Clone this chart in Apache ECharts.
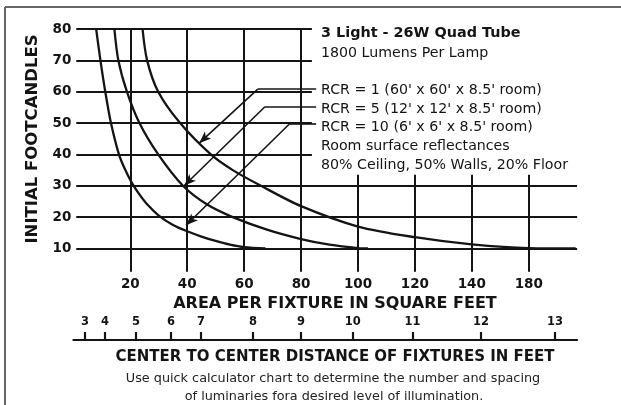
<!DOCTYPE html>
<html>
<head>
<meta charset="utf-8">
<script src="https://cdn.jsdelivr.net/npm/echarts@6/dist/echarts.min.js"></script>
<style>
  html, body { margin: 0; padding: 0; background: #fff; }
  #main { width: 621px; height: 405px; }
</style>
</head>
<body>
<div id="main"></div>
<script>
// values (area in sq ft, footcandles)
var rcr10 = [[8.0, 80], [9.5, 70], [11.2, 60], [13.2, 50], [16, 40], [18, 35.5], [20.5, 31], [23, 27.5], [26, 24], [30, 20.5], [35, 17.5], [40, 15.5], [45, 13.8], [50, 12.4], [55, 11.2], [60, 10.4], [67.5, 10]];
var rcr5 = [[14.4, 80], [15.8, 70], [18.8, 60], [23.2, 50], [29.8, 40], [38.5, 30], [47, 24], [56, 20], [68, 16], [80, 13], [90, 11.2], [100, 10.1], [103.5, 10]];
var rcr1 = [[24.3, 80], [25.9, 70], [29.8, 60], [37.5, 50], [48.3, 40], [56, 35], [65.9, 30], [80, 23.5], [100, 17], [120, 13.6], [140, 11.3], [160, 10.1], [176.5, 10]];

var yTicks = [10, 20, 30, 40, 50, 60, 70, 80];
var xTicks = [20, 40, 60, 80, 100, 120, 140, 160];
var xTickLabels = ['20', '40', '60', '80', '100', '120', '140', '180'];

// center to center distance scale (feet) and where each tick sits on the area scale
var distLabels = ['3', '4', '5', '6', '7', '8', '9', '10', '11', '12', '13'];
var distPos = [4.1, 11.1, 22, 34.3, 44.8, 63.1, 80, 98.2, 119.2, 143.2, 169.2];

// leader lines: [text end, knee, arrow tip]
var leaders = [
  [[85.3, 60.8], [64.8, 60.8], [44.2, 43.6]],
  [[85.3, 55.2], [67.3, 55.2], [38.9, 30]],
  [[85.3, 49.7], [75.9, 49.7], [39.6, 17.4]]
];

var noteLines = [
  '1800 Lumens Per Lamp',
  '',
  'RCR = 1 (60\' x 60\' x 8.5\' room)',
  'RCR = 5 (12\' x 12\' x 8.5\' room)',
  'RCR = 10 (6\' x 6\' x 8.5\' room)',
  'Room surface reflectances',
  '80% Ceiling, 50% Walls, 20% Floor'
];

var ink = '#141414';
var font = '"DejaVu Sans"';
var xMin = 0, xMax = 177, yMin = 2.6, yMax = 80;

// grid lines
var gridSegs = [];
yTicks.forEach(function (v) {
  var end = v >= 40 ? 83.8 : 177;
  gridSegs.push([{ coord: [1, v] }, { coord: [end, v] }]);
});
xTicks.forEach(function (v) {
  var top = v <= 80 ? 80 : 33.5;
  gridSegs.push([{ coord: [v, top] }, { coord: [v, yMin] }]);
});

var leaderSegs = [], arrowSegs = [];
leaders.forEach(function (l) {
  leaderSegs.push([{ coord: l[0] }, { coord: l[1] }]);
  arrowSegs.push([{ coord: l[1] }, { coord: l[2] }]);
});

function curve(name, data) {
  return {
    name: name,
    type: 'line',
    data: data,
    smooth: 0.3,
    showSymbol: false,
    symbol: 'none',
    lineStyle: { color: ink, width: 2.3 },
    z: 5
  };
}

var chart = echarts.init(document.getElementById('main'), null, { renderer: 'canvas' });

var graphic = [
  { type: 'line', shape: { x1: 5, y1: 7, x2: 621, y2: 7 }, style: { stroke: '#666', lineWidth: 2 } },
  { type: 'line', shape: { x1: 5, y1: 7, x2: 5, y2: 405 }, style: { stroke: '#666', lineWidth: 2 } },
  {
    type: 'text', x: 33, y: 139, rotation: Math.PI / 2,
    style: { text: 'INITIAL FOOTCANDLES', font: 'bold 16.5px ' + font, fill: ink, align: 'center', verticalAlign: 'middle' }
  },
  {
    type: 'text', x: 335, y: 304,
    style: { text: 'AREA PER FIXTURE IN SQUARE FEET', font: 'bold 16px ' + font, fill: ink, align: 'center', verticalAlign: 'middle' }
  },
  {
    type: 'text', x: 335, y: 357,
    style: { text: 'CENTER TO CENTER DISTANCE OF FIXTURES IN FEET', font: 'bold 15px ' + font, fill: ink, align: 'center', verticalAlign: 'middle' }
  },
  {
    type: 'text', x: 333, y: 379,
    style: { text: 'Use quick calculator chart to determine the number and spacing', font: '12.8px ' + font, fill: '#222', align: 'center', verticalAlign: 'middle' }
  },
  {
    type: 'text', x: 334, y: 397,
    style: { text: 'of luminaries fora desired level of illumination.', font: '12.8px ' + font, fill: '#222', align: 'center', verticalAlign: 'middle' }
  },
  {
    type: 'text', x: 321, y: 33,
    style: { text: '3 Light - 26W Quad Tube', font: 'bold 14.4px ' + font, fill: ink, align: 'left', verticalAlign: 'middle' }
  }
];
var noteY = [53, 71, 90, 109, 127, 146, 165];
noteLines.forEach(function (t, i) {
  if (!t) return;
  graphic.push({
    type: 'text', x: 321, y: noteY[i],
    style: { text: t, font: '14.2px ' + font, fill: ink, align: 'left', verticalAlign: 'middle' }
  });
});

var option = {
  animation: false,
  backgroundColor: '#fff',
  textStyle: { fontFamily: 'DejaVu Sans' },
  grid: [
    { left: 73.4, right: 43.9, top: 29, bottom: 133.3 },
    { left: 73.4, right: 43.9, top: 339, height: 1 }
  ],
  xAxis: [
    {
      type: 'value', gridIndex: 0, min: xMin, max: xMax,
      axisLine: { show: false }, axisTick: { show: false }, splitLine: { show: false },
      axisLabel: {
        customValues: xTicks, margin: 6,
        fontFamily: 'DejaVu Sans', fontWeight: 'bold', fontSize: 13.5, color: ink,
        formatter: function (v) { return xTickLabels[xTicks.indexOf(v)]; }
      }
    },
    {
      type: 'value', gridIndex: 1, position: 'top', min: xMin, max: xMax,
      axisLine: { show: true, lineStyle: { color: ink, width: 2.2 } },
      axisTick: { show: true, customValues: distPos, length: 8, lineStyle: { color: ink, width: 2.2 } },
      splitLine: { show: false },
      axisLabel: {
        customValues: distPos, margin: 11,
        fontFamily: 'DejaVu Sans', fontWeight: 'bold', fontSize: 11.5, color: ink,
        formatter: function (v) { return distLabels[distPos.indexOf(v)]; }
      }
    }
  ],
  yAxis: [
    {
      type: 'value', gridIndex: 0, min: yMin, max: yMax,
      axisLine: { show: false }, axisTick: { show: false }, splitLine: { show: false },
      axisLabel: {
        customValues: yTicks, margin: 2,
        fontFamily: 'DejaVu Sans', fontWeight: 'bold', fontSize: 13.5, color: ink
      }
    },
    {
      type: 'value', gridIndex: 1, min: 0, max: 1, show: false
    }
  ],
  graphic: graphic,
  series: [
    {
      name: 'grid', type: 'line', data: [], xAxisIndex: 0, yAxisIndex: 0, z: 1,
      markLine: {
        silent: true, symbol: ['none', 'none'], label: { show: false },
        lineStyle: { color: ink, width: 2, type: 'solid' },
        emphasis: { disabled: true },
        data: gridSegs
      }
    },
    {
      name: 'leaders', type: 'line', data: [], z: 3,
      markLine: {
        silent: true, symbol: ['none', 'none'], label: { show: false },
        lineStyle: { color: ink, width: 1.6, type: 'solid' },
        emphasis: { disabled: true },
        data: leaderSegs
      }
    },
    {
      name: 'arrows', type: 'line', data: [], z: 3,
      markLine: {
        silent: true, symbol: ['none', 'arrow'], symbolSize: [7, 12], label: { show: false },
        lineStyle: { color: ink, width: 1.6, type: 'solid' },
        emphasis: { disabled: true },
        data: arrowSegs
      }
    },
    curve('RCR = 10', rcr10),
    curve('RCR = 5', rcr5),
    curve('RCR = 1', rcr1)
  ]
};
chart.setOption(option);
</script>
</body>
</html>
